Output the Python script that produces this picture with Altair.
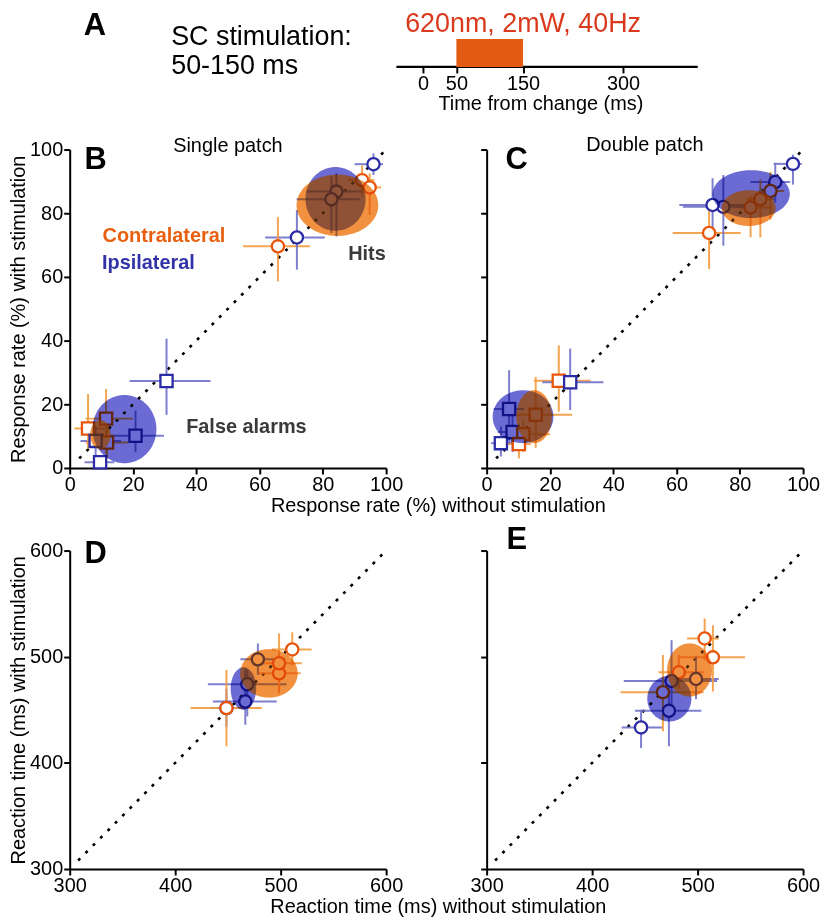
import altair as alt
import pandas as pd
import numpy as np

FONT = "Liberation Sans"
SIDES = ["Contralateral", "Ipsilateral"]
MARK_COLORS = ["#E8560C", "#2B2BA3"]
ERR_COLORS = ["#F29B3E", "#7070C9"]
FILL_COLORS = ["#F39C54", "#6B6BD3"]
ORANGE_GLAZE = "#F07814"

# ---------------- Panel A ----------------
a_ticks = [0, 50, 150, 300]
a_stim = [50, 150]
a_line = [-40, 412]
a_domain = [-530, 570]

# ---------------- Panel B : single patch, response rate ----------------
b_side = ["Contralateral"] * 3 + ["Ipsilateral"] * 4 + ["Contralateral"] * 3 + ["Ipsilateral"] * 4
b_kind = ["hit"] * 7 + ["fa"] * 7
b_x = [65.8, 92.4, 94.8, 96.0, 71.8, 84.3, 82.7, 5.8, 11.5, 11.8, 30.6, 20.8, 9.6, 8.2]
b_y = [69.6, 90.4, 88.1, 95.4, 72.4, 86.8, 84.4, 12.4, 15.5, 8.0, 27.3, 10.1, 1.8, 8.5]
b_xlo = [54.8, 88.0, 91.6, 90.0, 61.8, 74.9, 71.7, 1.5, 5.0, 5.0, 18.9, 12.6, 4.7, 3.4]
b_xhi = [75.9, 96.3, 98.4, 99.0, 80.6, 92.7, 91.6, 11.0, 20.0, 18.5, 44.5, 29.8, 14.1, 16.2]
b_ylo = [58.6, 85.2, 79.5, 92.0, 62.3, 72.7, 73.8, 6.0, 4.5, 3.0, 16.7, 5.0, 0.5, 4.0]
b_yhi = [78.8, 95.0, 92.5, 98.8, 81.0, 92.5, 91.5, 23.2, 24.8, 13.0, 40.6, 18.0, 3.5, 13.0]
b_ell_side = ["Ipsilateral", "Contralateral", "Ipsilateral", "Contralateral"]
b_ell_cx = [84.0, 84.6, 17.3, 9.7]
b_ell_cy = [84.5, 82.5, 12.2, 10.5]
b_ell_rx = [9.5, 12.9, 10.1, 3.2]
b_ell_ry = [10.0, 9.6, 10.7, 4.5]

# ---------------- Panel C : double patch, response rate ----------------
c_side = ["Ipsilateral", "Ipsilateral", "Contralateral", "Contralateral", "Contralateral",
          "Ipsilateral", "Ipsilateral", "Contralateral",
          "Contralateral", "Ipsilateral", "Ipsilateral", "Contralateral", "Ipsilateral",
          "Contralateral", "Ipsilateral", "Contralateral"]
c_kind = ["hit"] * 8 + ["fa"] * 8
c_x = [96.8, 91.2, 89.7, 86.5, 83.4, 74.8, 71.4, 70.3, 22.8, 26.4, 7.1, 15.5, 8.2, 11.6, 4.5, 10.2]
c_y = [95.5, 89.8, 87.0, 84.4, 81.8, 82.0, 82.6, 73.8, 27.4, 26.9, 18.5, 16.7, 11.3, 10.6, 7.8, 7.5]
c_xlo = [90.7, 83.4, 86.0, 82.0, 79.5, 62.0, 60.9, 58.8, 14.9, 17.6, 2.2, 9.7, 3.5, 7.6, 1.4, 6.5]
c_xhi = [99.6, 95.9, 94.0, 91.0, 90.0, 85.0, 81.3, 80.3, 32.9, 36.9, 11.8, 27.0, 13.0, 20.0, 8.7, 14.0]
c_ylo = [89.0, 83.3, 78.0, 72.4, 72.4, 69.8, 74.0, 62.5, 17.7, 18.2, 7.8, 6.3, 5.0, 5.0, 3.6, 3.0]
c_yhi = [98.4, 95.8, 93.0, 90.6, 85.4, 92.0, 91.0, 82.3, 38.5, 37.5, 30.7, 28.6, 17.0, 15.0, 13.0, 9.4]
c_ell_side = ["Ipsilateral", "Contralateral", "Ipsilateral", "Contralateral"]
c_ell_cx = [83.6, 82.8, 11.5, 15.0]
c_ell_cy = [86.0, 81.6, 16.1, 16.1]
c_ell_rx = [12.2, 8.5, 9.6, 5.6]
c_ell_ry = [7.5, 5.6, 8.3, 8.3]

# ---------------- Panel D : single patch, reaction time ----------------
d_side = ["Ipsilateral"] * 4 + ["Contralateral"] * 4
d_kind = ["hit"] * 8
d_x = [448.6, 466.5, 468.4, 478.4, 448.6, 498.5, 498.5, 511.0]
d_y = [451.6, 457.8, 474.0, 497.5, 451.6, 484.4, 493.8, 506.9]
d_xlo = [433.0, 435.7, 431.0, 461.8, 414.6, 478.8, 480.0, 491.6]
d_xhi = [466.0, 496.3, 505.7, 504.2, 482.2, 519.0, 520.0, 529.3]
d_ylo = [434.0, 435.9, 443.8, 482.8, 415.6, 467.0, 465.6, 492.0]
d_yhi = [470.0, 489.0, 487.5, 512.5, 487.5, 502.0, 521.9, 523.0]
d_ell_side = ["Ipsilateral", "Contralateral"]
d_ell_cx = [464.7, 488.9]
d_ell_cy = [470.0, 484.3]
d_ell_rx = [12.1, 27.2]
d_ell_ry = [20.0, 22.8]

# ---------------- Panel E : double patch, reaction time ----------------
e_side = ["Contralateral"] * 4 + ["Ipsilateral"] * 4
e_kind = ["hit"] * 8
e_x = [506.7, 514.5, 482.2, 467.1, 498.5, 475.3, 472.8, 446.4]
e_y = [517.2, 499.4, 485.3, 466.6, 479.0, 477.2, 449.0, 433.4]
e_xlo = [490.0, 482.0, 463.0, 427.0, 475.0, 430.0, 440.7, 428.0]
e_xhi = [520.0, 545.0, 506.0, 505.7, 520.0, 518.5, 503.5, 466.5]
e_ylo = [497.0, 467.2, 470.0, 429.7, 460.0, 446.9, 415.6, 414.0]
e_yhi = [536.0, 529.7, 502.0, 501.6, 500.0, 515.6, 470.3, 450.0]
e_ell_side = ["Contralateral", "Ipsilateral"]
e_ell_cx = [492.4, 473.2]
e_ell_cy = [487.5, 460.5]
e_ell_rx = [21.2, 20.9]
e_ell_ry = [25.0, 21.5]

rate_ticks = [0, 20, 40, 60, 80, 100]
rt_ticks = [300, 400, 500, 600]
rate_diag = [3, 100]
rt_diag = [308, 598]

W, H = 318, 320

err_scale = alt.Scale(domain=SIDES, range=ERR_COLORS)
mark_scale = alt.Scale(domain=SIDES, range=MARK_COLORS)
fill_scale = alt.Scale(domain=SIDES, range=FILL_COLORS)
shape_scale = alt.Scale(domain=["hit", "fa"], range=["circle", "square"])


def axis(ticks, labels=True, title="", title_x=None):
    kw = dict(values=ticks, labels=labels, title=title, grid=False, domainColor="black",
              domainWidth=2, tickColor="black", tickWidth=2, tickSize=6,
              labelFontSize=20, labelColor="black", labelPadding=1, labelFlush=False,
              labelOverlap=False,
              titleFontSize=20, titleFontWeight="normal", titleColor="black",
              titlePadding=1, labelFont=FONT, titleFont=FONT)
    if title_x is not None:
        kw["titleX"] = title_x
    return alt.Axis(**kw)


def ellipse_frame(side, cx, cy, rx, ry):
    rows = []
    t = np.linspace(0, np.pi, 61)
    for i in range(len(side)):
        for tt in t:
            rows.append({"eid": i, "side": side[i],
                         "ex": cx[i] + rx[i] * np.cos(tt),
                         "ey1": cy[i] + ry[i] * np.sin(tt),
                         "ey2": cy[i] - ry[i] * np.sin(tt)})
    return pd.DataFrame(rows)


def panel(side, kind, x, y, xlo, xhi, ylo, yhi, es, ecx, ecy, erx, ery,
          dom, diag, xax, yax, letter, letter_pos, title=None, notes=None):
    sx = alt.Scale(domain=dom, nice=False, zero=False)
    sy = alt.Scale(domain=dom, nice=False, zero=False)
    pts = pd.DataFrame({"side": side, "kind": kind, "x": x, "y": y,
                        "xlo": xlo, "xhi": xhi, "ylo": ylo, "yhi": yhi})
    ell = ellipse_frame(es, ecx, ecy, erx, ery)
    dg = pd.DataFrame({"x": [diag[0]], "y": [diag[0]], "x2": [diag[1]], "y2": [diag[1]]})

    def X(f):
        return alt.X(f, scale=sx, axis=xax)

    def Y(f):
        return alt.Y(f, scale=sy, axis=yax)

    diag_l = alt.Chart(dg).mark_rule(color="black", strokeWidth=2.6, strokeDash=[3, 7.5]).encode(
        x=X("x:Q"), y=Y("y:Q"), x2="x2:Q", y2="y2:Q")
    base = alt.Chart(pts)
    xerr = base.mark_rule(strokeWidth=2, opacity=0.9).encode(
        x=X("xlo:Q"), x2="xhi:Q", y=Y("y:Q"),
        color=alt.Color("side:N", scale=err_scale, legend=None))
    yerr = base.mark_rule(strokeWidth=2, opacity=0.9).encode(
        x=X("x:Q"), y=Y("ylo:Q"), y2="yhi:Q",
        color=alt.Color("side:N", scale=err_scale, legend=None))
    dots = base.mark_point(filled=True, fill="white", size=150, strokeWidth=2.3, opacity=1).encode(
        x=X("x:Q"), y=Y("y:Q"),
        stroke=alt.Stroke("side:N", scale=mark_scale, legend=None),
        shape=alt.Shape("kind:N", scale=shape_scale, legend=None))
    ells = alt.Chart(ell).mark_area(fillOpacity=1, blend="multiply").encode(
        x=X("ex:Q"), y=Y("ey1:Q"), y2="ey2:Q",
        fill=alt.Fill("side:N", scale=fill_scale, legend=None),
        detail="eid:N")
    glaze = alt.Chart(ell).transform_filter(alt.datum.side == "Contralateral").mark_area(
        fill=ORANGE_GLAZE, fillOpacity=0.3).encode(
        x=X("ex:Q"), y=Y("ey1:Q"), y2="ey2:Q", detail="eid:N")
    layers = [diag_l, xerr, yerr, dots, ells, glaze]
    lt = alt.Chart(pd.DataFrame({"t": [letter]})).mark_text(
        font=FONT, fontSize=31, fontWeight="bold", align="left", baseline="middle", color="black"
    ).encode(text="t:N", x=alt.value(letter_pos[0]), y=alt.value(letter_pos[1]))
    layers.append(lt)
    if title is not None:
        tt = alt.Chart(pd.DataFrame({"t": [title[0]]})).mark_text(
            font=FONT, fontSize=20, align="center", baseline="middle", color="black"
        ).encode(text="t:N", x=alt.value(W / 2), y=alt.value(title[1]))
        layers.append(tt)
    if notes is not None:
        for (txt, nx, ny, col) in notes:
            nt = alt.Chart(pd.DataFrame({"t": [txt], "x": [nx], "y": [ny]})).mark_text(
                font=FONT, fontSize=20, fontWeight="bold", align="left", baseline="middle", color=col
            ).encode(text="t:N", x=X("x:Q"), y=Y("y:Q"))
            layers.append(nt)
    return alt.layer(*layers).resolve_scale(color="independent", fill="independent",
                                            stroke="independent").properties(width=W, height=H)


b_notes = [("Contralateral", 10.4, 72.8, "#E8600F"),
           ("Ipsilateral", 10.2, 64.4, "#3333A8"),
           ("Hits", 88.0, 67.2, "#3A3A3A"),
           ("False alarms", 36.8, 12.8, "#3A3A3A")]

pB = panel(b_side, b_kind, b_x, b_y, b_xlo, b_xhi, b_ylo, b_yhi,
           b_ell_side, b_ell_cx, b_ell_cy, b_ell_rx, b_ell_ry,
           [0, 100], rate_diag,
           axis(rate_ticks, title="Response rate (%) without stimulation", title_x=370),
           axis(rate_ticks, title="Response rate (%) with stimulation"),
           "B", (15, 11), title=("Single patch", -4), notes=b_notes)
pC = panel(c_side, c_kind, c_x, c_y, c_xlo, c_xhi, c_ylo, c_yhi,
           c_ell_side, c_ell_cx, c_ell_cy, c_ell_rx, c_ell_ry,
           [0, 100], rate_diag,
           axis(rate_ticks), axis(rate_ticks, labels=False),
           "C", (19, 11), title=("Double patch", -5))
pD = panel(d_side, d_kind, d_x, d_y, d_xlo, d_xhi, d_ylo, d_yhi,
           d_ell_side, d_ell_cx, d_ell_cy, d_ell_rx, d_ell_ry,
           [300, 600], rt_diag,
           axis(rt_ticks, title="Reaction time (ms) without stimulation", title_x=370),
           axis(rt_ticks, title="Reaction time (ms) with stimulation"),
           "D", (15, 3))
pE = panel(e_side, e_kind, e_x, e_y, e_xlo, e_xhi, e_ylo, e_yhi,
           e_ell_side, e_ell_cx, e_ell_cy, e_ell_rx, e_ell_ry,
           [300, 600], rt_diag,
           axis(rt_ticks), axis(rt_ticks, labels=False),
           "E", (20, -11))

# ---------------- Panel A chart ----------------
AH = 28
sA = alt.Scale(domain=a_domain, range=[0, 737], nice=False, zero=False)
syA = alt.Scale(domain=[0, 1], nice=False, zero=False)
axA = alt.Axis(values=a_ticks, domain=False, grid=False, tickColor="black", tickWidth=2, tickSize=6,
               labelFontSize=20, labelColor="black", labelPadding=1, labelFlush=False,
               title="Time from change (ms)", titleX=473, titleFontSize=20, titleFontWeight="normal",
               titleColor="black", titlePadding=0, labelFont=FONT, titleFont=FONT)
a_line_l = alt.Chart(pd.DataFrame({"t0": [a_line[0]], "t1": [a_line[1]], "y": [0]})).mark_rule(
    color="black", strokeWidth=2.2).encode(
    x=alt.X("t0:Q", scale=sA, axis=axA), x2="t1:Q", y=alt.Y("y:Q", scale=syA, axis=None))
a_bar = alt.Chart(pd.DataFrame({"t0": [a_stim[0]], "t1": [a_stim[1]], "y0": [0], "y1": [1]})).mark_rect(
    color="#E35A12").encode(
    x=alt.X("t0:Q", scale=sA, axis=axA), x2="t1:Q",
    y=alt.Y("y0:Q", scale=syA, axis=None), y2="y1:Q")
a_red = alt.Chart(pd.DataFrame({"t": ["620nm, 2mW, 40Hz"], "x": [150]})).mark_text(
    font=FONT, fontSize=27, color="#D93A1E", align="center", baseline="middle").encode(
    text="t:N", x=alt.X("x:Q", scale=sA, axis=axA), y=alt.value(-15))
a_letter = alt.Chart(pd.DataFrame({"t": ["A"]})).mark_text(
    font=FONT, fontSize=31, fontWeight="bold", align="left", baseline="middle", color="black").encode(
    text="t:N", x=alt.value(14), y=alt.value(-13))
a_sc1 = alt.Chart(pd.DataFrame({"t": ["SC stimulation:"]})).mark_text(
    font=FONT, fontSize=27, align="left", baseline="middle", color="black").encode(
    text="t:N", x=alt.value(102), y=alt.value(-2))
a_sc2 = alt.Chart(pd.DataFrame({"t": ["50-150 ms"]})).mark_text(
    font=FONT, fontSize=27, align="left", baseline="middle", color="black").encode(
    text="t:N", x=alt.value(102), y=alt.value(27))
pA = alt.layer(a_line_l, a_bar, a_red, a_letter, a_sc1, a_sc2).properties(width=W, height=AH)

spacer = alt.Chart(pd.DataFrame({"a": [0]})).mark_point(opacity=0).encode(
    x=alt.value(0), y=alt.value(0)).properties(width=W, height=AH)

chart = alt.concat(pA, spacer, pB, pC, pD, pE, columns=2,
                   spacing={"row": 83, "column": 101}, bounds="flush").properties(
    padding={"left": 0, "top": 0, "right": 0, "bottom": 0}
).configure(font=FONT).configure_view(stroke=None)

chart.save("out.html", embed_options={"renderer": "svg", "actions": False})
